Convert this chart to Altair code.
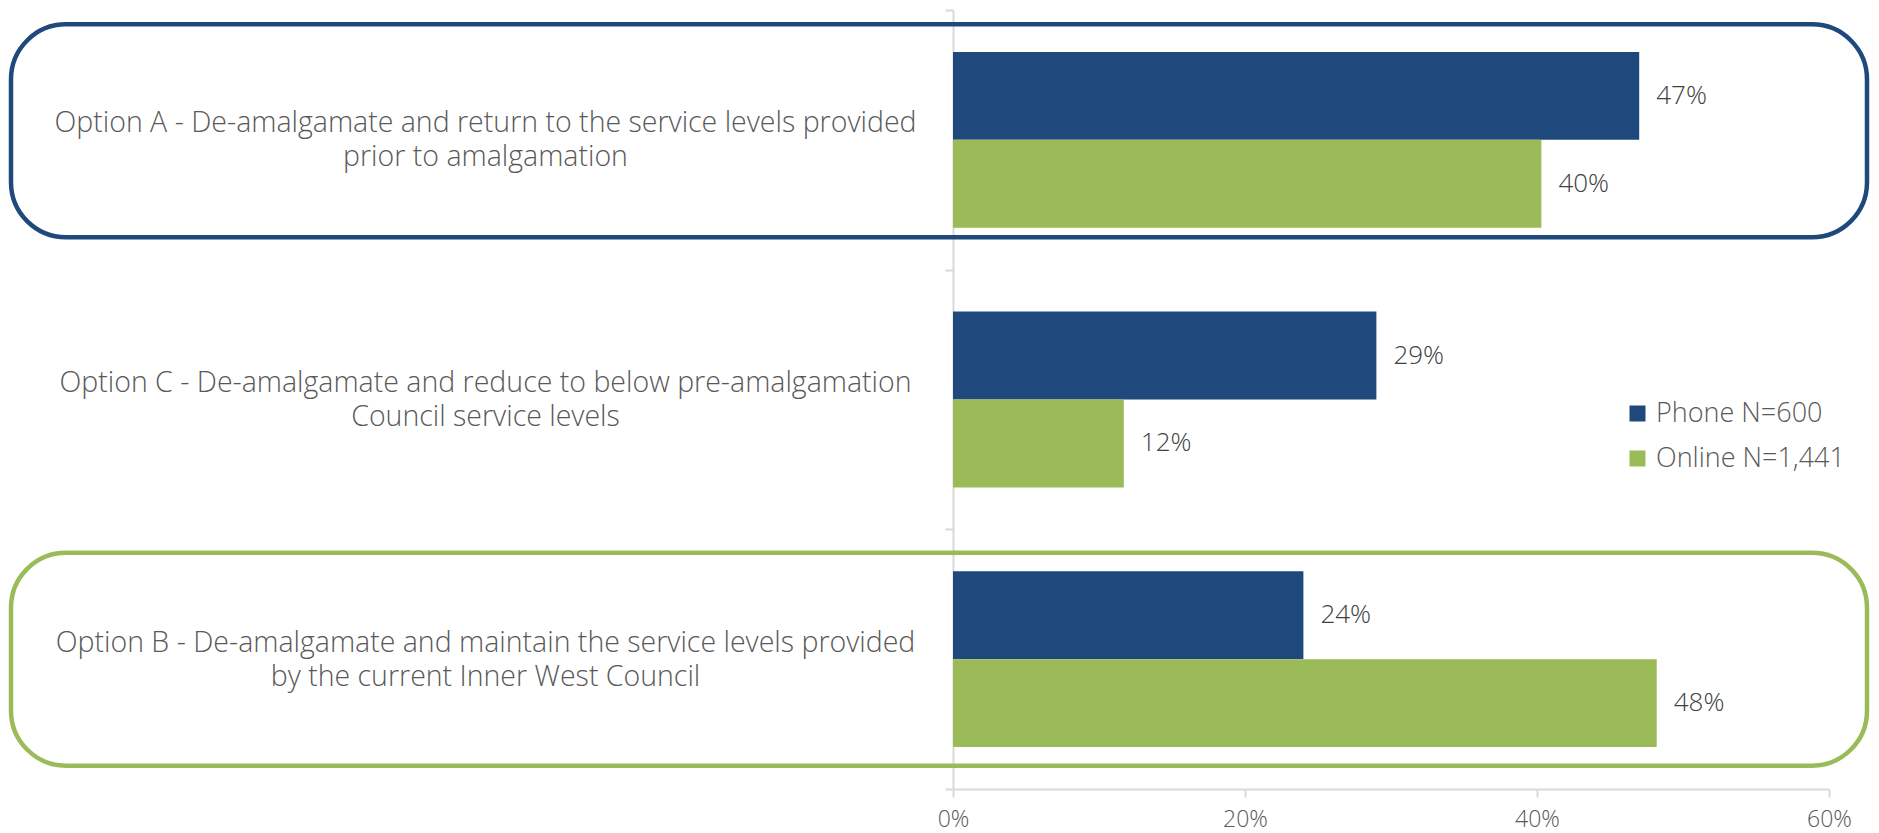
import altair as alt
import pandas as pd

options = [
    "Option A - De-amalgamate and return to the service levels provided|prior to amalgamation",
    "Option C - De-amalgamate and reduce to below pre-amalgamation|Council service levels",
    "Option B - De-amalgamate and maintain the service levels provided|by the current Inner West Council",
]
series = ["Phone N=600", "Online N=1,441"]
phone = [47.0, 29.0, 24.0]
online = [40.3, 11.7, 48.2]
x_ticks = [0, 20, 40, 60]
highlight_options = [options[0], options[2]]
highlight_leaders = ["Phone", "Online"]

rows = []
for o, p, q in zip(options, phone, online):
    rows.append({"option": o, "series": series[0], "value": p})
    rows.append({"option": o, "series": series[1], "value": q})
df = pd.DataFrame(rows)
boxes = pd.DataFrame({"option": highlight_options, "leader": highlight_leaders})

NAVY = "#1F497D"
GREEN = "#9BBB59"
FONT = "Open Sans"
GRAY = "#595959"

y_enc = alt.Y(
    "option:N",
    sort=options,
    scale=alt.Scale(domain=options, paddingInner=0, paddingOuter=0),
    axis=alt.Axis(
        title=None,
        labelExpr="split(datum.label, '|')",
        labelAlign="center",
        labelBaseline="middle",
        labelPadding=460,
        labelOffset=-17,
        labelFontSize=28.5,
        labelLineHeight=34,
        labelColor=GRAY,
        labelFont=FONT,
        labelFontWeight=300,
        tickSize=8,
        tickBand="extent",
        labelLimit=2000,
    ),
)

stroke_enc = alt.Stroke(
    "leader:N",
    scale=alt.Scale(domain=highlight_leaders, range=[NAVY, GREEN]),
    legend=None,
)

box_mark = dict(filled=False, strokeWidth=4.5, cornerRadius=55, height={"band": 0.82})

box_a = alt.Chart(boxes).transform_filter(
    alt.datum.leader == highlight_leaders[0]
).mark_bar(**box_mark).encode(
    y=y_enc, yOffset=alt.value(-9), x=alt.value(-942), x2=alt.value(914), stroke=stroke_enc
)
box_b = alt.Chart(boxes).transform_filter(
    alt.datum.leader == highlight_leaders[1]
).mark_bar(**box_mark).encode(
    y=y_enc, x=alt.value(-942), x2=alt.value(914), stroke=stroke_enc
)

x_enc = alt.X(
    "value:Q",
    scale=alt.Scale(domain=[0, 60]),
    axis=alt.Axis(
        title=None,
        values=x_ticks,
        labelExpr="datum.value + '%'",
        labelFlush=False,
        grid=False,
        tickSize=8,
        labelPadding=11,
        labelFontSize=23,
        labelColor=GRAY,
        labelFont=FONT,
        labelFontWeight=300,
    ),
)

y_off = alt.YOffset(
    "series:N", sort=series, scale=alt.Scale(domain=series, paddingInner=0, paddingOuter=0.477)
)

bars = alt.Chart(df).mark_bar().encode(
    x=x_enc,
    y=y_enc,
    yOffset=y_off,
    color=alt.Color(
        "series:N",
        scale=alt.Scale(domain=series, range=[NAVY, GREEN]),
        legend=alt.Legend(
            title=None,
            orient="none",
            legendX=671,
            legendY=390,
            symbolType="square",
            symbolSize=256,
            symbolStrokeWidth=0,
            labelFontSize=27,
            labelFont=FONT,
            labelFontWeight=300,
            labelColor=GRAY,
            labelOffset=5,
            labelLimit=500,
            rowPadding=17,
        ),
    ),
)

labels = alt.Chart(df).transform_calculate(
    label="format(datum.value, '.0f') + '%'"
).mark_text(
    align="left", baseline="middle", dx=17, fontSize=26, font=FONT, fontWeight=300, color="#404040"
).encode(
    x=x_enc,
    y=y_enc,
    yOffset=y_off,
    text="label:N",
)

chart = alt.layer(box_a, box_b, bars, labels).properties(
    width=876,
    height=779,
    padding={"left": 945, "top": 2, "right": 42, "bottom": 44},
    autosize=alt.AutoSizeParams(type="none"),
).configure_view(stroke=None).configure_axis(
    domainColor="#D9D9D9", tickColor="#D9D9D9", domainWidth=2, tickWidth=2
)

chart.save("out.html", embed_options={"renderer": "svg", "actions": False})
